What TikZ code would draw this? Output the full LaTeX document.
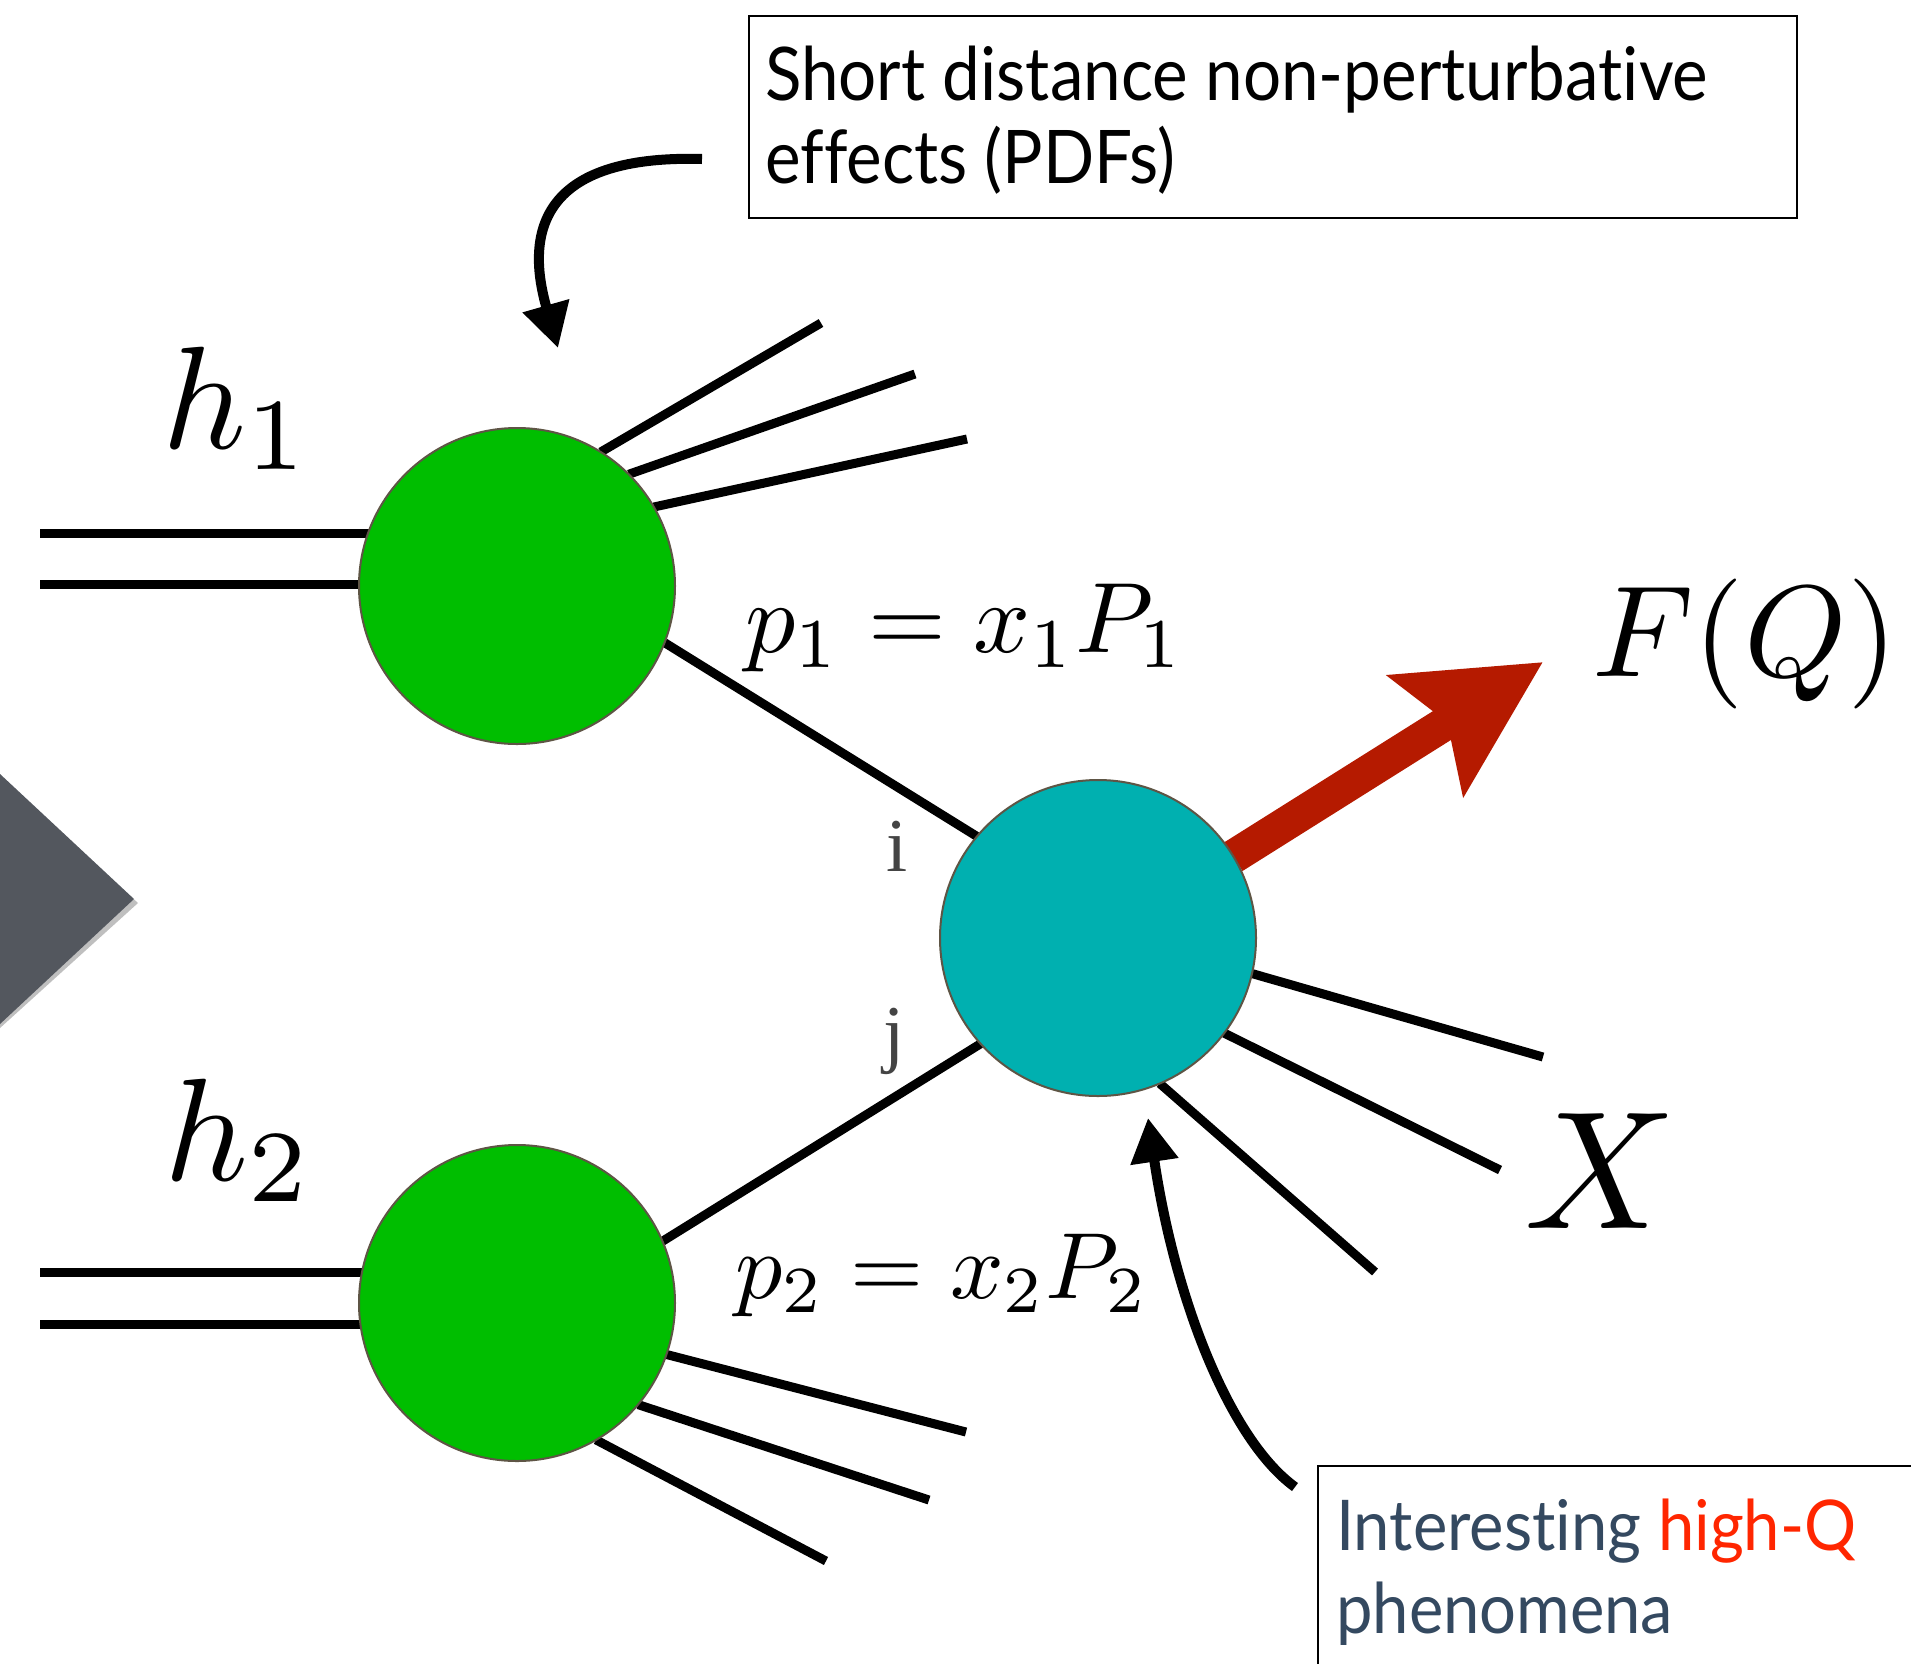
\documentclass[tikz,border=0pt]{standalone}
\usepackage{graphicx}
\usepackage{fontspec}
\usetikzlibrary{arrows.meta}
\newfontfamily\boxfont[FakeStretch=0.91,Ligatures=NoCommon]{Lato}
\newfontfamily\hqfont[FakeStretch=0.93,Ligatures=NoCommon]{Lato}
\newfontfamily\ijfont{Liberation Serif}
\definecolor{blobgreen}{RGB}{0,190,0}
\definecolor{blobteal}{RGB}{0,176,176}
\definecolor{blobedge}{RGB}{94,85,69}
\definecolor{arrowred}{RGB}{181,26,0}
\definecolor{navtri}{RGB}{83,87,94}
\definecolor{slate}{RGB}{52,73,96}
\definecolor{hotred}{RGB}{255,38,0}
\definecolor{ijgray}{RGB}{68,68,68}
\begin{document}
\begin{tikzpicture}[x=1pt,y=-1pt,
  blob/.style={circle, draw=blobedge, line width=2pt, minimum size=316pt, inner sep=0pt, outer sep=0pt},
  leg/.style={line width=9pt, black},
  note/.style={draw=black, line width=2pt, inner sep=0pt, anchor=north west},
  pointer/.style={line width=10pt, black, -{Triangle[length=44pt,width=46pt]}},
  boxtext/.style={anchor=base west, inner sep=0pt, font=\boxfont\fontsize{74}{83}\selectfont},
  hqtext/.style={anchor=base west, inner sep=0pt, text=slate, font=\hqfont\fontsize{70}{83}\selectfont},
  mathlab/.style={anchor=base west, inner sep=0pt},
  ijlab/.style={anchor=base, inner sep=0pt, text=ijgray, font=\ijfont\fontsize{76}{80}\selectfont}
]
\clip (0,0) rectangle (1911,1663);
\fill[white] (0,0) rectangle (1911,1663);

% left gray navigation triangle
\fill[black, opacity=0.25] (0,778) -- (138,903) -- (0,1028) -- cycle;
\fill[navtri] (0,774) -- (134,899) -- (0,1024) -- cycle;

% coordinates
\coordinate (ha1) at (40,533);
\coordinate (ha2) at (40,584);
\coordinate (hb1) at (40,1272);
\coordinate (hb2) at (40,1324);
\coordinate (s11) at (821,323);
\coordinate (s12) at (915,374);
\coordinate (s13) at (967,439);
\coordinate (s21) at (966,1432);
\coordinate (s22) at (929,1500);
\coordinate (s23) at (826,1561);
\coordinate (x1) at (1543,1057);
\coordinate (x2) at (1500,1170);
\coordinate (x3) at (1375,1272);
\coordinate (tipF) at (1543,662);
\coordinate (a1s) at (702,159);
\coordinate (a1e) at (558,348);
\coordinate (a2s) at (1295,1487);
\coordinate (a2e) at (1148,1118);

% blob positions (nodes drawn later, positions needed now)
\path (517,586) node[blob, draw=none] (g1) {};
\path (517,1303) node[blob, draw=none] (g2) {};
\path (1098,938) node[blob, draw=none] (hard) {};

% hadron lines
\draw[leg] (ha1) -- (ha1 -| g1.west) -- ++(12,0);
\draw[leg] (ha2) -- (ha2 -| g1.west) -- ++(12,0);
\draw[leg] (hb1) -- (hb1 -| g2.west) -- ++(12,0);
\draw[leg] (hb2) -- (hb2 -| g2.west) -- ++(12,0);

% spray lines
\draw[leg] (g1.58.4) -- (s11);
\draw[leg] (g1.45.2) -- (s12);
\draw[leg] (g1.30.9) -- (s13);
\draw[leg] (g2.-19.9) -- (s21);
\draw[leg] (g2.-40.6) -- (s22);
\draw[leg] (g2.-60.8) -- (s23);
\draw[leg] (hard.-13.8) -- (x1);
\draw[leg] (hard.-37.4) -- (x2);
\draw[leg] (hard.-67.6) -- (x3);

% partons
\draw[leg] (g1.-21.8) -- (hard.140.1);
\draw[leg] (g2.23.1) -- (hard.222.5);

% red arrow
\draw[line width=34pt, arrowred, -{Stealth[length=137pt,width=139pt,inset=24pt]}] (hard.31.8) -- (tipF);

% blobs
\node[blob, fill=blobgreen] at (g1) {};
\node[blob, fill=blobgreen] at (g2) {};
\node[blob, fill=blobteal] at (hard) {};

% boxes
\node[note, minimum width=1048pt, minimum height=202pt] (pdfbox) at (748,15) {};
\node[boxtext] at (765,100) {Short distance non-perturbative};
\node[boxtext] at (765,183) {effects (PDFs)};

\node[note, minimum width=700pt, minimum height=300pt] (hqbox) at (1317,1465) {};
\node[hqtext] at (1336,1550) {Interesting \textcolor{hotred}{high-Q}};
\node[hqtext] at (1336,1633) {phenomena};

% pointers
\draw[pointer] (a1s) .. controls (560,155) and (520,215) .. (a1e);
\draw[pointer] (a2s) .. controls (1230,1440) and (1175,1300) .. (a2e);

% labels
\node[mathlab] at (162,448) {\scalebox{14.6}{$h_1$}};
\node[mathlab] at (164,1180) {\scalebox{14.6}{$h_2$}};
\node[mathlab] at (745,652) {\scalebox{10.0}{$p_1 = x_1 P_1$}};
\node[mathlab] at (735,1298) {\scalebox{9.4}{$p_2 = x_2 P_2$}};
\node[mathlab] at (1592,676) {\scalebox{13}{$F(Q)$}};
\node[mathlab] at (1524,1228) {\scalebox{16.8}{$X$}};
\node[ijlab] at (897,871) {i};
\node[ijlab] at (894,1058) {j};
\end{tikzpicture}
\end{document}
